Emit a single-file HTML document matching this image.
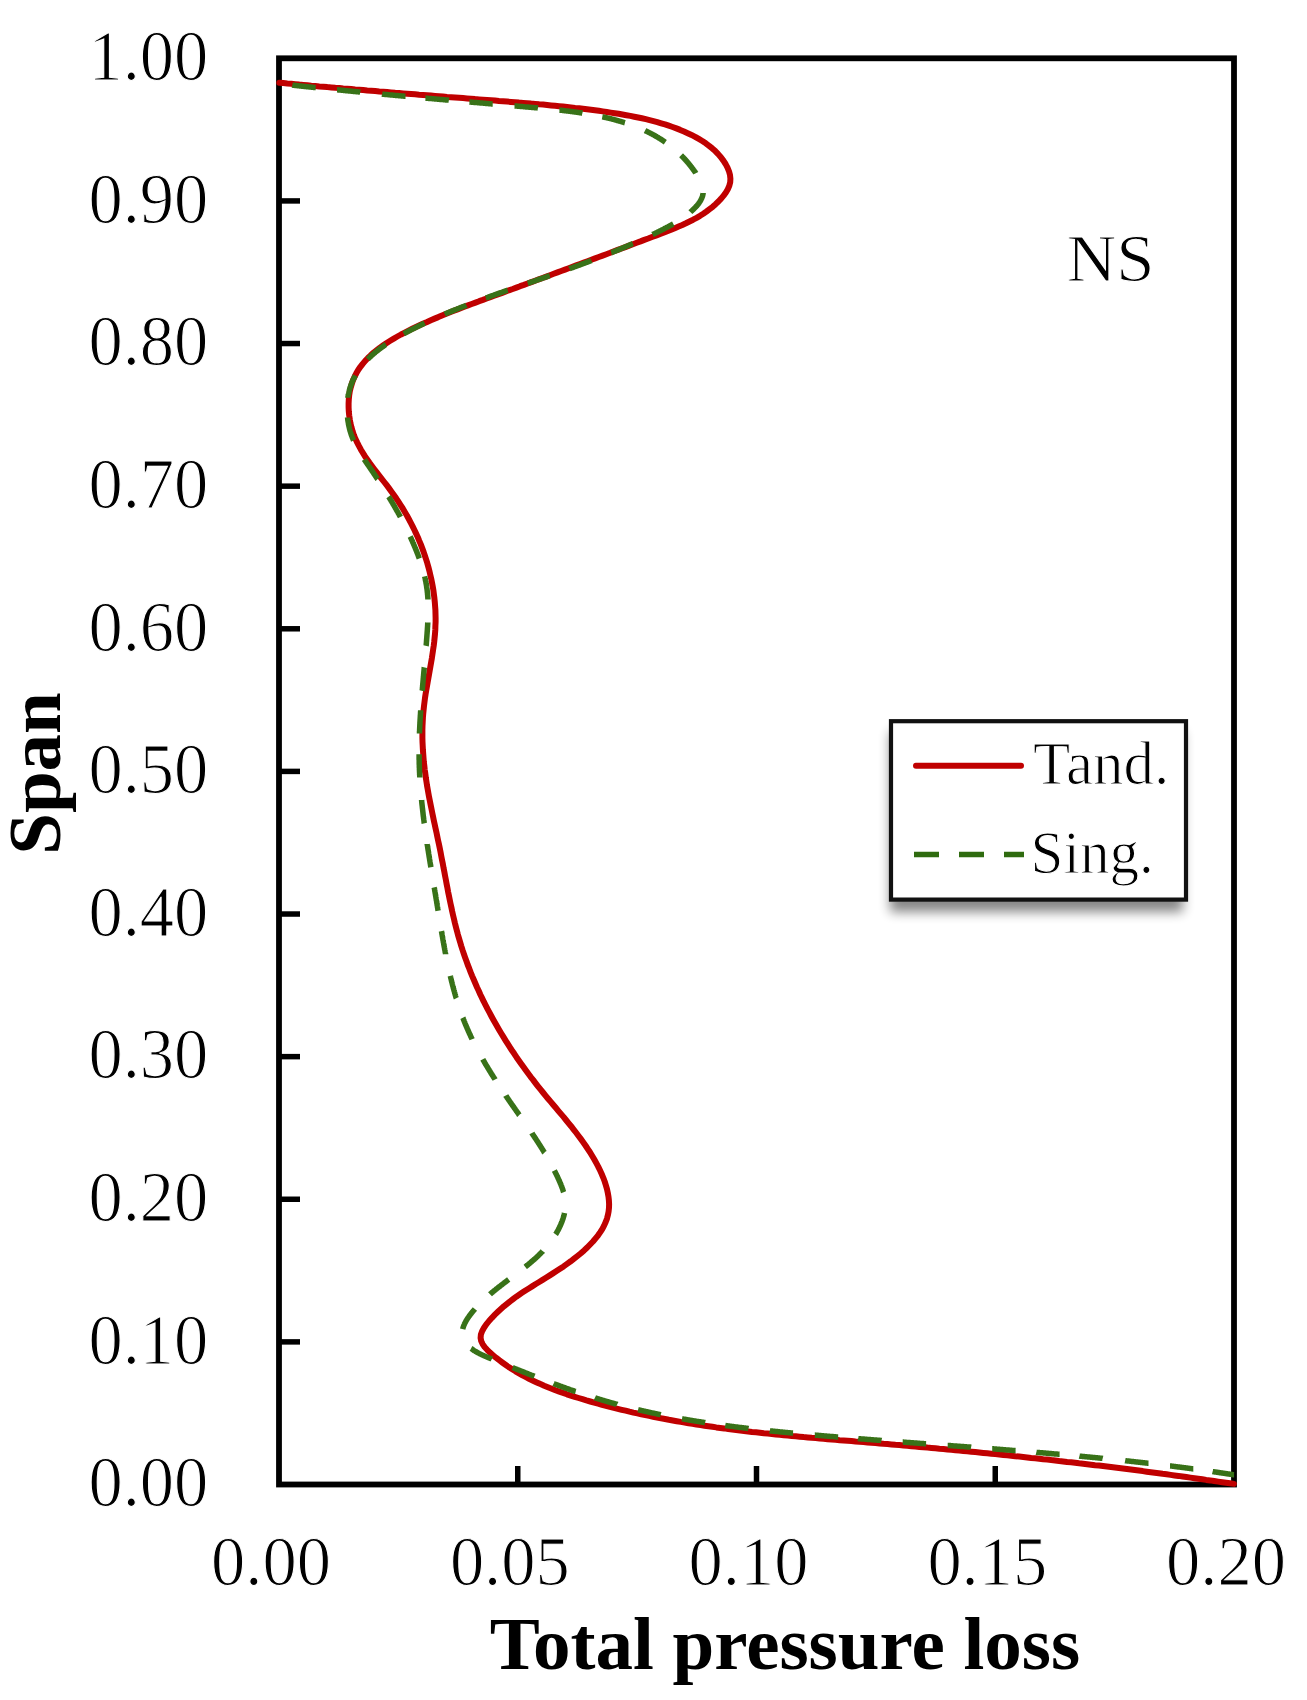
<!DOCTYPE html>
<html><head><meta charset="utf-8"><style>
html,body{margin:0;padding:0;background:#fff;}
body{width:1307px;height:1700px;overflow:hidden;}
svg{display:block;}
text{font-family:"Liberation Serif",serif;fill:#000;}
.thin{stroke:#fff;stroke-width:1.1px;}
</style></head><body>
<svg width="1307" height="1700" viewBox="0 0 1307 1700">
<defs><filter id="sh" x="-10%" y="-10%" width="130%" height="140%"><feGaussianBlur stdDeviation="6"/></filter></defs>
<rect width="1307" height="1700" fill="#fff"/>
<g class="thin" font-size="68.5" text-anchor="end"><text transform="translate(208.3 1506.3) scale(1 1.055)">0.00</text><text transform="translate(208.3 1363.7) scale(1 1.055)">0.10</text><text transform="translate(208.3 1221.1) scale(1 1.055)">0.20</text><text transform="translate(208.3 1078.4) scale(1 1.055)">0.30</text><text transform="translate(208.3 935.8) scale(1 1.055)">0.40</text><text transform="translate(208.3 793.2) scale(1 1.055)">0.50</text><text transform="translate(208.3 650.6) scale(1 1.055)">0.60</text><text transform="translate(208.3 508.0) scale(1 1.055)">0.70</text><text transform="translate(208.3 365.3) scale(1 1.055)">0.80</text><text transform="translate(208.3 222.7) scale(1 1.055)">0.90</text><text transform="translate(208.3 80.1) scale(1 1.055)">1.00</text></g>
<g class="thin" font-size="68.5" text-anchor="middle"><text transform="translate(271.0 1584.5) scale(1 1.03)">0.00</text><text transform="translate(509.8 1584.5) scale(1 1.03)">0.05</text><text transform="translate(748.5 1584.5) scale(1 1.03)">0.10</text><text transform="translate(987.3 1584.5) scale(1 1.03)">0.15</text><text transform="translate(1226.0 1584.5) scale(1 1.03)">0.20</text></g>
<text x="785" y="1669" font-size="75" font-weight="bold" text-anchor="middle">Total pressure loss</text>
<text transform="translate(60,773.5) rotate(-90)" font-size="75" font-weight="bold" text-anchor="middle">Span</text>
<text class="thin" x="1066.8" y="281.3" font-size="68.6">NS</text>
<g stroke="#000" stroke-width="5.5"><line x1="279" y1="1341.88" x2="300" y2="1341.88"/><line x1="279" y1="1199.26" x2="300" y2="1199.26"/><line x1="279" y1="1056.64" x2="300" y2="1056.64"/><line x1="279" y1="914.02" x2="300" y2="914.02"/><line x1="279" y1="771.40" x2="300" y2="771.40"/><line x1="279" y1="628.78" x2="300" y2="628.78"/><line x1="279" y1="486.16" x2="300" y2="486.16"/><line x1="279" y1="343.54" x2="300" y2="343.54"/><line x1="279" y1="200.92" x2="300" y2="200.92"/><line x1="517.75" y1="1484.5" x2="517.75" y2="1466"/><line x1="756.50" y1="1484.5" x2="756.50" y2="1466"/><line x1="995.25" y1="1484.5" x2="995.25" y2="1466"/></g>
<rect x="279" y="58.3" width="955" height="1426.2" fill="none" stroke="#000" stroke-width="5.8"/>
<path d="M279.3 82.7 L283.3 83.1 L287.3 83.5 L291.3 83.8 L295.3 84.2 L299.3 84.6 L303.3 84.9 L307.3 85.3 L311.3 85.7 L315.3 86.0 L319.3 86.4 L323.3 86.7 L327.3 87.1 L331.3 87.4 L335.3 87.8 L339.3 88.1 L343.2 88.5 L347.2 88.8 L351.2 89.1 L355.2 89.5 L359.2 89.8 L363.2 90.1 L367.2 90.5 L371.2 90.8 L375.2 91.1 L379.2 91.5 L383.2 91.8 L387.1 92.1 L391.1 92.4 L395.1 92.8 L399.1 93.1 L403.1 93.4 L407.1 93.7 L411.1 94.0 L415.1 94.3 L419.1 94.7 L423.1 95.0 L427.0 95.3 L431.0 95.6 L435.0 95.9 L439.0 96.2 L443.0 96.5 L447.0 96.9 L451.0 97.2 L455.0 97.5 L459.0 97.8 L463.0 98.1 L467.0 98.4 L471.0 98.7 L475.0 99.1 L479.0 99.4 L483.0 99.7 L487.0 100.0 L491.0 100.3 L495.0 100.6 L499.0 101.0 L503.0 101.3 L507.0 101.6 L511.0 101.9 L515.0 102.2 L519.0 102.6 L523.1 102.9 L527.1 103.2 L531.1 103.6 L535.1 103.9 L539.1 104.3 L543.1 104.6 L547.1 105.0 L551.1 105.4 L555.1 105.8 L559.1 106.2 L563.1 106.6 L567.1 107.0 L571.1 107.4 L575.1 107.9 L579.1 108.3 L583.0 108.8 L587.0 109.3 L591.0 109.8 L594.9 110.3 L598.9 110.8 L602.8 111.4 L606.8 112.0 L610.7 112.6 L614.7 113.2 L618.6 113.8 L622.5 114.5 L626.4 115.2 L630.3 115.9 L634.2 116.7 L638.1 117.5 L641.9 118.3 L645.8 119.2 L649.6 120.1 L653.5 121.1 L657.3 122.1 L661.2 123.3 L665.0 124.4 L668.8 125.7 L672.6 127.0 L676.4 128.4 L680.2 129.9 L684.0 131.5 L687.7 133.2 L691.5 134.9 L695.2 136.8 L698.8 138.9 L702.3 141.0 L705.8 143.3 L709.1 145.8 L712.3 148.4 L715.3 151.1 L718.2 154.1 L720.9 157.2 L723.4 160.6 L725.6 164.0 L727.5 167.7 L729.0 171.3 L730.0 175.0 L730.4 178.7 L730.2 182.3 L729.3 185.8 L727.8 189.2 L725.9 192.5 L723.6 195.6 L721.1 198.6 L718.4 201.5 L715.6 204.2 L712.7 206.8 L709.6 209.2 L706.5 211.5 L703.3 213.7 L700.0 215.8 L696.6 217.8 L693.1 219.7 L689.5 221.5 L685.9 223.3 L682.3 225.0 L678.6 226.6 L674.8 228.2 L671.1 229.7 L667.3 231.2 L663.5 232.7 L659.6 234.1 L655.8 235.6 L652.0 237.0 L648.2 238.5 L644.3 239.9 L640.5 241.4 L636.7 242.8 L632.9 244.2 L629.1 245.6 L625.3 247.1 L621.5 248.5 L617.7 249.9 L614.0 251.3 L610.2 252.8 L606.4 254.2 L602.6 255.6 L598.8 257.0 L595.1 258.4 L591.3 259.8 L587.5 261.2 L583.8 262.6 L580.0 264.0 L576.2 265.4 L572.5 266.8 L568.7 268.2 L565.0 269.6 L561.2 271.0 L557.5 272.4 L553.7 273.8 L550.0 275.2 L546.3 276.6 L542.5 278.0 L538.8 279.3 L535.1 280.7 L531.3 282.1 L527.6 283.5 L523.9 284.9 L520.1 286.2 L516.4 287.6 L512.7 289.0 L508.9 290.3 L505.2 291.7 L501.5 293.1 L497.8 294.4 L494.1 295.8 L490.3 297.2 L486.6 298.5 L482.9 299.9 L479.2 301.2 L475.5 302.6 L471.7 304.0 L468.0 305.4 L464.3 306.8 L460.6 308.2 L456.9 309.6 L453.2 311.0 L449.4 312.5 L445.7 314.0 L442.0 315.5 L438.3 317.1 L434.6 318.6 L430.8 320.2 L427.1 321.9 L423.4 323.5 L419.6 325.3 L415.9 327.0 L412.2 328.8 L408.5 330.7 L404.7 332.6 L401.0 334.5 L397.4 336.5 L393.8 338.6 L390.2 340.8 L386.7 343.0 L383.3 345.3 L380.0 347.6 L376.8 350.1 L373.7 352.6 L370.7 355.3 L367.9 358.0 L365.2 360.8 L362.7 363.8 L360.4 366.8 L358.2 370.0 L356.3 373.3 L354.6 376.7 L353.0 380.2 L351.8 383.8 L350.7 387.6 L349.8 391.4 L349.2 395.3 L348.8 399.3 L348.6 403.3 L348.6 407.3 L348.8 411.4 L349.2 415.4 L349.8 419.5 L350.5 423.5 L351.5 427.4 L352.6 431.3 L353.9 435.1 L355.4 438.8 L357.1 442.4 L358.9 445.9 L360.8 449.4 L362.8 452.8 L364.9 456.2 L367.2 459.5 L369.5 462.8 L371.9 466.0 L374.3 469.2 L376.7 472.4 L379.2 475.6 L381.7 478.8 L384.2 482.0 L386.7 485.2 L389.1 488.4 L391.5 491.7 L393.9 495.0 L396.2 498.3 L398.4 501.7 L400.6 505.1 L402.8 508.5 L404.8 512.0 L406.9 515.5 L408.8 519.0 L410.7 522.6 L412.5 526.1 L414.3 529.8 L416.0 533.4 L417.7 537.0 L419.2 540.7 L420.8 544.4 L422.2 548.1 L423.6 551.9 L424.9 555.7 L426.1 559.4 L427.3 563.2 L428.4 567.1 L429.4 570.9 L430.3 574.8 L431.2 578.6 L432.0 582.5 L432.7 586.4 L433.4 590.3 L433.9 594.3 L434.4 598.2 L434.8 602.1 L435.1 606.1 L435.4 610.0 L435.5 614.0 L435.6 618.0 L435.6 622.0 L435.4 625.9 L435.3 629.9 L435.0 633.9 L434.6 637.9 L434.2 641.9 L433.7 645.9 L433.1 649.9 L432.5 653.9 L431.9 657.9 L431.2 661.9 L430.5 665.9 L429.8 669.9 L429.1 673.9 L428.4 677.9 L427.7 681.9 L427.0 685.9 L426.3 690.0 L425.6 694.0 L425.0 698.0 L424.5 702.0 L424.0 706.0 L423.6 709.9 L423.2 713.9 L422.9 717.9 L422.7 721.9 L422.5 725.9 L422.4 729.9 L422.4 733.9 L422.4 737.8 L422.5 741.8 L422.7 745.8 L422.9 749.8 L423.2 753.7 L423.5 757.7 L423.8 761.7 L424.3 765.6 L424.7 769.6 L425.3 773.5 L425.8 777.5 L426.4 781.4 L427.0 785.4 L427.7 789.3 L428.4 793.3 L429.1 797.2 L429.9 801.1 L430.7 805.1 L431.5 809.0 L432.3 813.0 L433.1 816.9 L433.9 820.8 L434.8 824.8 L435.6 828.7 L436.5 832.7 L437.3 836.6 L438.1 840.5 L439.0 844.5 L439.8 848.4 L440.6 852.4 L441.3 856.3 L442.1 860.3 L442.9 864.2 L443.6 868.2 L444.4 872.1 L445.1 876.0 L445.9 880.0 L446.6 883.9 L447.4 887.9 L448.1 891.8 L448.9 895.7 L449.7 899.6 L450.5 903.5 L451.4 907.5 L452.2 911.4 L453.1 915.3 L454.0 919.1 L454.9 923.0 L455.9 926.9 L456.9 930.7 L457.9 934.6 L459.0 938.4 L460.2 942.3 L461.3 946.1 L462.5 949.9 L463.8 953.7 L465.1 957.4 L466.5 961.2 L467.8 965.0 L469.3 968.7 L470.7 972.4 L472.2 976.1 L473.8 979.8 L475.4 983.5 L477.0 987.2 L478.7 990.8 L480.3 994.5 L482.1 998.1 L483.8 1001.7 L485.7 1005.3 L487.5 1008.9 L489.4 1012.4 L491.3 1016.0 L493.2 1019.5 L495.2 1023.0 L497.2 1026.5 L499.2 1030.0 L501.3 1033.5 L503.4 1036.9 L505.5 1040.3 L507.6 1043.7 L509.8 1047.1 L512.0 1050.5 L514.3 1053.8 L516.5 1057.2 L518.8 1060.5 L521.1 1063.8 L523.5 1067.1 L525.8 1070.3 L528.2 1073.5 L530.6 1076.8 L533.1 1079.9 L535.5 1083.1 L538.0 1086.3 L540.5 1089.4 L543.0 1092.5 L545.5 1095.6 L548.1 1098.7 L550.6 1101.7 L553.2 1104.8 L555.8 1107.8 L558.3 1110.8 L560.9 1113.9 L563.5 1116.9 L566.0 1120.0 L568.5 1123.1 L571.1 1126.2 L573.5 1129.3 L576.0 1132.5 L578.4 1135.7 L580.8 1138.9 L583.2 1142.2 L585.5 1145.5 L587.7 1148.9 L590.0 1152.3 L592.1 1155.8 L594.2 1159.3 L596.2 1162.9 L598.2 1166.6 L600.0 1170.3 L601.7 1174.0 L603.3 1177.8 L604.7 1181.5 L605.9 1185.3 L607.0 1189.1 L607.8 1192.9 L608.5 1196.7 L608.9 1200.4 L609.1 1204.1 L609.0 1207.8 L608.6 1211.5 L607.9 1215.1 L607.0 1218.6 L605.7 1222.0 L604.2 1225.4 L602.4 1228.8 L600.3 1232.1 L598.1 1235.3 L595.6 1238.4 L593.0 1241.5 L590.1 1244.5 L587.2 1247.5 L584.1 1250.4 L580.9 1253.2 L577.5 1256.0 L574.1 1258.7 L570.7 1261.3 L567.1 1263.9 L563.6 1266.4 L560.0 1268.8 L556.5 1271.1 L552.9 1273.4 L549.4 1275.6 L546.0 1277.8 L542.6 1279.9 L539.2 1282.0 L535.8 1284.0 L532.5 1286.1 L529.2 1288.2 L525.9 1290.2 L522.7 1292.3 L519.5 1294.5 L516.3 1296.7 L513.2 1299.0 L510.1 1301.3 L507.0 1303.8 L503.9 1306.3 L500.9 1309.0 L497.9 1311.8 L494.9 1314.7 L491.9 1317.8 L489.0 1321.0 L486.3 1324.4 L484.0 1327.8 L482.1 1331.2 L480.9 1334.6 L480.6 1337.9 L481.2 1341.1 L482.6 1344.1 L484.6 1347.0 L487.2 1349.8 L490.0 1352.6 L493.0 1355.2 L496.0 1357.7 L499.2 1360.2 L502.3 1362.5 L505.5 1364.8 L508.8 1367.1 L512.2 1369.2 L515.5 1371.3 L519.0 1373.3 L522.5 1375.3 L526.0 1377.1 L529.5 1379.0 L533.1 1380.7 L536.8 1382.4 L540.5 1384.1 L544.2 1385.7 L547.9 1387.2 L551.7 1388.7 L555.4 1390.2 L559.3 1391.6 L563.1 1392.9 L566.9 1394.3 L570.8 1395.6 L574.7 1396.8 L578.6 1398.0 L582.5 1399.2 L586.4 1400.4 L590.3 1401.5 L594.2 1402.6 L598.1 1403.7 L602.0 1404.8 L606.0 1405.8 L609.9 1406.9 L613.8 1407.9 L617.7 1408.8 L621.7 1409.8 L625.6 1410.7 L629.5 1411.7 L633.4 1412.6 L637.4 1413.4 L641.3 1414.3 L645.3 1415.1 L649.2 1415.9 L653.1 1416.7 L657.1 1417.5 L661.0 1418.3 L665.0 1419.0 L668.9 1419.8 L672.8 1420.5 L676.8 1421.2 L680.7 1421.9 L684.7 1422.5 L688.6 1423.2 L692.6 1423.8 L696.5 1424.5 L700.5 1425.1 L704.5 1425.7 L708.4 1426.2 L712.4 1426.8 L716.3 1427.4 L720.3 1427.9 L724.3 1428.4 L728.2 1429.0 L732.2 1429.5 L736.2 1430.0 L740.1 1430.5 L744.1 1430.9 L748.1 1431.4 L752.0 1431.9 L756.0 1432.3 L760.0 1432.7 L763.9 1433.2 L767.9 1433.6 L771.9 1434.0 L775.9 1434.4 L779.8 1434.8 L783.8 1435.2 L787.8 1435.6 L791.8 1436.0 L795.8 1436.3 L799.7 1436.7 L803.7 1437.1 L807.7 1437.4 L811.7 1437.8 L815.7 1438.1 L819.6 1438.5 L823.6 1438.8 L827.6 1439.2 L831.6 1439.5 L835.6 1439.8 L839.6 1440.2 L843.6 1440.5 L847.6 1440.8 L851.5 1441.1 L855.5 1441.5 L859.5 1441.8 L863.5 1442.1 L867.5 1442.5 L871.5 1442.8 L875.5 1443.1 L879.5 1443.4 L883.5 1443.8 L887.5 1444.1 L891.4 1444.4 L895.4 1444.8 L899.4 1445.1 L903.4 1445.5 L907.4 1445.8 L911.4 1446.2 L915.4 1446.5 L919.4 1446.9 L923.4 1447.2 L927.4 1447.6 L931.4 1447.9 L935.4 1448.3 L939.4 1448.7 L943.4 1449.0 L947.4 1449.4 L951.4 1449.8 L955.4 1450.2 L959.3 1450.5 L963.3 1450.9 L967.3 1451.3 L971.3 1451.7 L975.3 1452.1 L979.3 1452.5 L983.3 1452.9 L987.3 1453.3 L991.3 1453.7 L995.3 1454.1 L999.3 1454.5 L1003.3 1454.9 L1007.3 1455.3 L1011.3 1455.7 L1015.3 1456.2 L1019.3 1456.6 L1023.2 1457.0 L1027.2 1457.4 L1031.2 1457.9 L1035.2 1458.3 L1039.2 1458.7 L1043.2 1459.2 L1047.2 1459.6 L1051.2 1460.1 L1055.2 1460.5 L1059.2 1461.0 L1063.1 1461.4 L1067.1 1461.9 L1071.1 1462.3 L1075.1 1462.8 L1079.1 1463.3 L1083.1 1463.7 L1087.1 1464.2 L1091.1 1464.7 L1095.0 1465.2 L1099.0 1465.6 L1103.0 1466.1 L1107.0 1466.6 L1111.0 1467.1 L1114.9 1467.6 L1118.9 1468.1 L1122.9 1468.6 L1126.9 1469.1 L1130.9 1469.6 L1134.8 1470.1 L1138.8 1470.6 L1142.8 1471.1 L1146.8 1471.7 L1150.7 1472.2 L1154.7 1472.7 L1158.7 1473.2 L1162.6 1473.8 L1166.6 1474.3 L1170.6 1474.9 L1174.5 1475.4 L1178.5 1475.9 L1182.5 1476.5 L1186.4 1477.0 L1190.4 1477.6 L1194.4 1478.2 L1198.3 1478.7 L1202.3 1479.3 L1206.2 1479.9 L1210.2 1480.4 L1214.2 1481.0 L1218.1 1481.6 L1222.1 1482.2 L1226.0 1482.7 L1230.0 1483.3 L1233.9 1483.9" fill="none" stroke="#c00000" stroke-width="6" stroke-linejoin="round" stroke-linecap="round"/>
<path d="M292.3 85.1 L292.7 85.2 L293.2 85.2 L293.7 85.3 L294.1 85.3 L294.6 85.4 L295.0 85.4 L295.5 85.5 L296.0 85.5 L296.4 85.6 L296.9 85.6 L297.4 85.7 L297.8 85.7 L298.3 85.8 L298.7 85.8 L299.2 85.9 L299.7 85.9 L300.1 86.0 L300.6 86.0 L301.0 86.1 L301.5 86.1 L302.0 86.2 L302.4 86.2 L302.9 86.3 L303.3 86.3 L303.8 86.4 L304.3 86.4 L304.7 86.5 L305.2 86.5 L305.6 86.6 L306.1 86.6 L306.6 86.7 L307.0 86.7 L307.5 86.7 L307.9 86.8 L308.4 86.8 L308.8 86.9 L309.3 86.9 L309.8 87.0 L310.2 87.0 L310.7 87.1 L311.1 87.1 L311.6 87.2 L312.0 87.2 L312.5 87.3 L313.0 87.3 L313.4 87.4 L313.9 87.4 L314.3 87.5 L314.8 87.5 L315.2 87.6 L315.7 87.6 M337.0 89.8 L337.4 89.8 L337.9 89.9 L338.3 89.9 L338.8 89.9 L339.2 90.0 L339.7 90.0 L340.1 90.1 L340.6 90.1 L341.0 90.2 L341.5 90.2 L341.9 90.3 L342.4 90.3 L342.8 90.3 L343.3 90.4 L343.7 90.4 L344.2 90.5 L344.6 90.5 L345.1 90.6 L345.5 90.6 L346.0 90.7 L346.4 90.7 L346.9 90.7 L347.3 90.8 L347.8 90.8 L348.2 90.9 L348.7 90.9 L349.1 91.0 L349.6 91.0 L350.0 91.1 L350.5 91.1 L350.9 91.1 L351.4 91.2 L351.8 91.2 L352.2 91.3 L352.7 91.3 L353.1 91.4 L353.6 91.4 L354.0 91.4 L354.5 91.5 L354.9 91.5 L355.4 91.6 L355.8 91.6 L356.3 91.7 L356.7 91.7 L357.2 91.7 L357.6 91.8 L358.1 91.8 L358.5 91.9 L358.9 91.9 L359.4 92.0 L359.8 92.0 L360.3 92.1 M382.1 94.1 L382.5 94.2 L383.0 94.2 L383.4 94.2 L383.8 94.3 L384.3 94.3 L384.7 94.4 L385.2 94.4 L385.6 94.5 L386.1 94.5 L386.5 94.5 L386.9 94.6 L387.4 94.6 L387.8 94.7 L388.3 94.7 L388.7 94.7 L389.2 94.8 L389.6 94.8 L390.0 94.9 L390.5 94.9 L390.9 95.0 L391.4 95.0 L391.8 95.0 L392.3 95.1 L392.7 95.1 L393.1 95.2 L393.6 95.2 L394.0 95.2 L394.5 95.3 L394.9 95.3 L395.3 95.4 L395.8 95.4 L396.2 95.4 L396.7 95.5 L397.1 95.5 L397.6 95.6 L398.0 95.6 L398.4 95.6 L398.9 95.7 L399.3 95.7 L399.8 95.8 L400.2 95.8 L400.7 95.8 L401.1 95.9 L401.5 95.9 L402.0 96.0 L402.4 96.0 L402.9 96.1 L403.3 96.1 L403.7 96.1 L404.2 96.2 L404.6 96.2 L405.1 96.3 L405.5 96.3 M425.4 98.1 L425.8 98.1 L426.3 98.2 L426.7 98.2 L427.2 98.3 L427.6 98.3 L428.1 98.3 L428.5 98.4 L428.9 98.4 L429.4 98.4 L429.8 98.5 L430.3 98.5 L430.7 98.6 L431.2 98.6 L431.6 98.6 L432.0 98.7 L432.5 98.7 L432.9 98.8 L433.4 98.8 L433.8 98.8 L434.3 98.9 L434.7 98.9 L435.1 99.0 L435.6 99.0 L436.0 99.0 L436.5 99.1 L436.9 99.1 L437.3 99.2 L437.8 99.2 L438.2 99.2 L438.7 99.3 L439.1 99.3 L439.6 99.4 L440.0 99.4 L440.5 99.4 L440.9 99.5 L441.3 99.5 L441.8 99.6 L442.2 99.6 L442.7 99.6 L443.1 99.7 L443.6 99.7 L444.0 99.7 L444.4 99.8 L444.9 99.8 L445.3 99.9 L445.8 99.9 L446.2 99.9 L446.7 100.0 L447.1 100.0 L447.5 100.1 L448.0 100.1 L448.4 100.1 L448.9 100.2 M469.4 102.0 L469.8 102.0 L470.2 102.1 L470.7 102.1 L471.1 102.1 L471.6 102.2 L472.0 102.2 L472.5 102.2 L472.9 102.3 L473.4 102.3 L473.8 102.4 L474.3 102.4 L474.7 102.4 L475.2 102.5 L475.6 102.5 L476.1 102.6 L476.5 102.6 L477.0 102.6 L477.4 102.7 L477.9 102.7 L478.3 102.8 L478.8 102.8 L479.2 102.8 L479.7 102.9 L480.1 102.9 L480.5 102.9 L481.0 103.0 L481.4 103.0 L481.9 103.1 L482.3 103.1 L482.8 103.1 L483.2 103.2 L483.7 103.2 L484.1 103.3 L484.6 103.3 L485.0 103.3 L485.5 103.4 L485.9 103.4 L486.4 103.5 L486.8 103.5 L487.3 103.5 L487.7 103.6 L488.2 103.6 L488.6 103.7 L489.1 103.7 L489.5 103.7 L490.0 103.8 L490.4 103.8 L490.9 103.8 L491.3 103.9 L491.8 103.9 L492.2 104.0 L492.7 104.0 M514.5 105.9 L515.0 105.9 L515.4 106.0 L515.9 106.0 L516.3 106.1 L516.8 106.1 L517.2 106.1 L517.7 106.2 L518.2 106.2 L518.6 106.3 L519.1 106.3 L519.5 106.3 L520.0 106.4 L520.5 106.4 L520.9 106.5 L521.4 106.5 L521.8 106.5 L522.3 106.6 L522.8 106.6 L523.2 106.7 L523.7 106.7 L524.1 106.7 L524.6 106.8 L525.1 106.8 L525.5 106.9 L526.0 106.9 L526.4 106.9 L526.9 107.0 L527.4 107.0 L527.8 107.1 L528.3 107.1 L528.7 107.1 L529.2 107.2 L529.7 107.2 L530.1 107.3 L530.6 107.3 L531.1 107.3 L531.5 107.4 L532.0 107.4 L532.4 107.5 L532.9 107.5 L533.4 107.5 L533.8 107.6 L534.3 107.6 L534.8 107.7 L535.2 107.7 L535.7 107.8 L536.1 107.8 L536.6 107.8 L537.1 107.9 L537.5 107.9 L538.0 108.0 M559.4 110.1 L559.8 110.1 L560.3 110.2 L560.8 110.2 L561.2 110.3 L561.7 110.3 L562.2 110.4 L562.6 110.4 L563.1 110.5 L563.5 110.5 L564.0 110.6 L564.5 110.7 L564.9 110.7 L565.4 110.8 L565.9 110.8 L566.3 110.9 L566.8 110.9 L567.2 111.0 L567.7 111.1 L568.2 111.1 L568.6 111.2 L569.1 111.2 L569.6 111.3 L570.0 111.3 L570.5 111.4 L570.9 111.5 L571.4 111.5 L571.9 111.6 L572.3 111.6 L572.8 111.7 L573.3 111.8 L573.7 111.8 L574.2 111.9 L574.6 112.0 L575.1 112.0 L575.6 112.1 L576.0 112.1 L576.5 112.2 L576.9 112.3 L577.4 112.3 L577.9 112.4 L578.3 112.5 L578.8 112.5 L579.2 112.6 L579.7 112.7 L580.1 112.7 L580.6 112.8 L581.1 112.9 L581.5 113.0 L582.0 113.0 L582.4 113.1 M602.3 116.8 L602.8 116.9 L603.2 117.0 L603.6 117.1 L604.1 117.2 L604.5 117.3 L605.0 117.4 L605.4 117.5 L605.9 117.6 L606.3 117.7 L606.7 117.8 L607.2 117.9 L607.6 118.0 L608.1 118.1 L608.5 118.2 L608.9 118.3 L609.4 118.4 L609.8 118.5 L610.3 118.6 L610.7 118.7 L611.1 118.8 L611.6 118.9 L612.0 119.1 L612.4 119.2 L612.9 119.3 L613.3 119.4 L613.8 119.5 L614.2 119.6 L614.6 119.7 L615.1 119.9 L615.5 120.0 L615.9 120.1 L616.4 120.2 L616.8 120.3 L617.2 120.5 L617.7 120.6 L618.1 120.7 L618.5 120.8 L618.9 121.0 L619.4 121.1 L619.8 121.2 L620.2 121.3 L620.7 121.5 L621.1 121.6 L621.5 121.7 L621.9 121.9 L622.4 122.0 L622.8 122.1 L623.2 122.2 L623.6 122.4 L624.1 122.5 L624.5 122.7 L624.9 122.8 M645.0 130.6 L645.4 130.8 L645.8 131.0 L646.2 131.2 L646.6 131.4 L647.0 131.5 L647.4 131.7 L647.7 131.9 L648.1 132.1 L648.5 132.3 L648.9 132.5 L649.3 132.7 L649.7 132.9 L650.1 133.1 L650.5 133.3 L650.8 133.5 L651.2 133.7 L651.6 133.9 L652.0 134.1 L652.4 134.3 L652.8 134.5 L653.1 134.7 L653.5 134.9 L653.9 135.1 L654.3 135.3 L654.7 135.6 L655.0 135.8 L655.4 136.0 L655.8 136.2 L656.2 136.4 L656.5 136.6 L656.9 136.9 L657.3 137.1 L657.7 137.3 L658.0 137.5 L658.4 137.7 L658.8 138.0 L659.1 138.2 L659.5 138.4 L659.9 138.6 L660.3 138.9 L660.6 139.1 L661.0 139.3 L661.3 139.6 L661.7 139.8 L662.1 140.0 L662.4 140.3 L662.8 140.5 L663.2 140.8 L663.5 141.0 L663.9 141.2 L664.2 141.5 L664.6 141.7 L665.0 142.0 L665.3 142.2 M681.1 155.3 L681.4 155.6 L681.7 155.9 L682.0 156.3 L682.3 156.6 L682.7 156.9 L683.0 157.2 L683.3 157.5 L683.6 157.9 L683.9 158.2 L684.2 158.5 L684.5 158.8 L684.8 159.2 L685.1 159.5 L685.4 159.8 L685.7 160.2 L686.0 160.5 L686.3 160.8 L686.6 161.2 L686.9 161.5 L687.2 161.9 L687.5 162.2 L687.8 162.5 L688.1 162.9 L688.4 163.2 L688.7 163.6 L689.0 163.9 L689.2 164.3 L689.5 164.6 L689.8 165.0 L690.1 165.4 L690.4 165.7 L690.7 166.1 L690.9 166.4 L691.2 166.8 L691.5 167.2 L691.8 167.5 L692.1 167.9 L692.3 168.3 L692.6 168.6 L692.9 169.0 L693.2 169.4 L693.4 169.8 L693.7 170.1 L694.0 170.5 L694.3 170.9 L694.5 171.3 L694.8 171.7 L695.1 172.0 L695.3 172.4 L695.6 172.8 L695.8 173.2 M703.1 193.0 L703.1 193.4 L703.0 193.8 L703.0 194.2 L702.9 194.6 L702.8 195.0 L702.7 195.5 L702.6 195.9 L702.5 196.3 L702.3 196.7 L702.2 197.1 L702.0 197.5 L701.9 197.9 L701.7 198.3 L701.5 198.7 L701.3 199.1 L701.1 199.5 L700.9 199.9 L700.7 200.3 L700.5 200.7 L700.3 201.1 L700.0 201.5 L699.8 201.8 L699.5 202.2 L699.3 202.6 L699.0 203.0 L698.7 203.4 L698.5 203.8 L698.2 204.1 L697.9 204.5 L697.6 204.9 L697.3 205.2 L697.0 205.6 L696.7 206.0 L696.3 206.3 L696.0 206.7 L695.7 207.0 L695.4 207.4 L695.0 207.7 L694.7 208.1 L694.3 208.4 L694.0 208.8 L693.6 209.1 L693.3 209.5 L692.9 209.8 L692.6 210.1 L692.2 210.4 L691.9 210.8 L691.5 211.1 L691.1 211.4 L690.8 211.7 L690.4 212.1 M673.3 223.9 L672.9 224.1 L672.5 224.3 L672.1 224.5 L671.7 224.8 L671.3 225.0 L671.0 225.2 L670.6 225.4 L670.2 225.6 L669.8 225.8 L669.4 226.1 L669.0 226.3 L668.6 226.5 L668.2 226.7 L667.8 226.9 L667.4 227.1 L667.0 227.3 L666.6 227.5 L666.2 227.7 L665.8 227.9 L665.4 228.1 L665.0 228.3 L664.6 228.5 L664.2 228.8 L663.8 229.0 L663.4 229.2 L663.0 229.4 L662.6 229.6 L662.2 229.8 L661.8 230.0 L661.4 230.2 L661.0 230.4 L660.6 230.6 L660.2 230.8 L659.8 231.0 L659.4 231.2 L659.0 231.4 L658.6 231.6 L658.2 231.8 L657.8 232.0 L657.4 232.2 L657.0 232.4 L656.6 232.6 L656.2 232.8 L655.7 233.0 L655.3 233.2 L654.9 233.4 L654.5 233.6 L654.1 233.8 L653.7 234.0 L653.3 234.1 L652.9 234.3 L652.5 234.5 M632.9 243.6 L632.4 243.8 L632.0 243.9 L631.6 244.1 L631.2 244.3 L630.8 244.5 L630.4 244.7 L630.0 244.9 L629.6 245.0 L629.1 245.2 L628.7 245.4 L628.3 245.6 L627.9 245.8 L627.5 245.9 L627.1 246.1 L626.7 246.3 L626.2 246.5 L625.8 246.6 L625.4 246.8 L625.0 247.0 L624.6 247.2 L624.2 247.4 L623.7 247.5 L623.3 247.7 L622.9 247.9 L622.5 248.1 L622.1 248.2 L621.7 248.4 L621.2 248.6 L620.8 248.8 L620.4 248.9 L620.0 249.1 L619.6 249.3 L619.2 249.5 L618.7 249.6 L618.3 249.8 L617.9 250.0 L617.5 250.2 L617.1 250.3 L616.7 250.5 L616.2 250.7 L615.8 250.8 L615.4 251.0 L615.0 251.2 L614.6 251.4 L614.2 251.5 L613.7 251.7 L613.3 251.9 L612.9 252.1 L612.5 252.2 L612.1 252.4 L611.6 252.6 L611.2 252.7 M591.4 260.5 L591.0 260.7 L590.6 260.8 L590.2 261.0 L589.7 261.2 L589.3 261.3 L588.9 261.5 L588.5 261.6 L588.0 261.8 L587.6 262.0 L587.2 262.1 L586.8 262.3 L586.3 262.4 L585.9 262.6 L585.5 262.8 L585.1 262.9 L584.7 263.1 L584.2 263.2 L583.8 263.4 L583.4 263.6 L583.0 263.7 L582.5 263.9 L582.1 264.0 L581.7 264.2 L581.3 264.3 L580.8 264.5 L580.4 264.7 L580.0 264.8 L579.6 265.0 L579.1 265.1 L578.7 265.3 L578.3 265.4 L577.9 265.6 L577.4 265.8 L577.0 265.9 L576.6 266.1 L576.2 266.2 L575.7 266.4 L575.3 266.5 L574.9 266.7 L574.5 266.8 L574.0 267.0 L573.6 267.2 L573.2 267.3 L572.8 267.5 L572.3 267.6 L571.9 267.8 L571.5 267.9 L571.1 268.1 L570.6 268.2 L570.2 268.4 L569.8 268.5 L569.4 268.7 M549.8 275.7 L549.4 275.8 L548.9 275.9 L548.5 276.1 L548.1 276.2 L547.7 276.4 L547.2 276.5 L546.8 276.7 L546.4 276.8 L546.0 277.0 L545.5 277.1 L545.1 277.3 L544.7 277.4 L544.2 277.6 L543.8 277.7 L543.4 277.9 L543.0 278.0 L542.5 278.2 L542.1 278.3 L541.7 278.5 L541.3 278.6 L540.8 278.8 L540.4 278.9 L540.0 279.1 L539.6 279.2 L539.1 279.3 L538.7 279.5 L538.3 279.6 L537.9 279.8 L537.4 279.9 L537.0 280.1 L536.6 280.2 L536.2 280.4 L535.7 280.5 L535.3 280.7 L534.9 280.8 L534.5 281.0 L534.0 281.1 L533.6 281.3 L533.2 281.4 L532.8 281.6 L532.3 281.7 L531.9 281.8 L531.5 282.0 L531.1 282.1 L530.6 282.3 L530.2 282.4 L529.8 282.6 L529.4 282.7 L528.9 282.9 L528.5 283.0 L528.1 283.2 L527.7 283.3 M507.7 290.2 L507.3 290.3 L506.9 290.5 L506.5 290.6 L506.0 290.8 L505.6 290.9 L505.2 291.1 L504.8 291.2 L504.3 291.4 L503.9 291.5 L503.5 291.7 L503.1 291.8 L502.7 292.0 L502.2 292.1 L501.8 292.3 L501.4 292.4 L501.0 292.6 L500.5 292.7 L500.1 292.9 L499.7 293.0 L499.3 293.2 L498.8 293.3 L498.4 293.5 L498.0 293.6 L497.6 293.8 L497.2 293.9 L496.7 294.1 L496.3 294.2 L495.9 294.4 L495.5 294.5 L495.0 294.7 L494.6 294.8 L494.2 295.0 L493.8 295.1 L493.4 295.3 L492.9 295.4 L492.5 295.6 L492.1 295.7 L491.7 295.9 L491.2 296.0 L490.8 296.2 L490.4 296.3 L490.0 296.5 L489.6 296.6 L489.1 296.8 L488.7 296.9 L488.3 297.1 L487.9 297.3 L487.4 297.4 L487.0 297.6 L486.6 297.7 L486.2 297.9 L485.8 298.0 M466.4 305.3 L466.0 305.5 L465.6 305.6 L465.2 305.8 L464.7 306.0 L464.3 306.1 L463.9 306.3 L463.5 306.4 L463.1 306.6 L462.6 306.8 L462.2 306.9 L461.8 307.1 L461.4 307.3 L461.0 307.4 L460.5 307.6 L460.1 307.8 L459.7 307.9 L459.3 308.1 L458.9 308.3 L458.4 308.4 L458.0 308.6 L457.6 308.8 L457.2 309.0 L456.8 309.1 L456.4 309.3 L455.9 309.5 L455.5 309.6 L455.1 309.8 L454.7 310.0 L454.3 310.1 L453.8 310.3 L453.4 310.5 L453.0 310.7 L452.6 310.8 L452.2 311.0 L451.8 311.2 L451.3 311.3 L450.9 311.5 L450.5 311.7 L450.1 311.9 L449.7 312.0 L449.3 312.2 L448.8 312.4 L448.4 312.6 L448.0 312.7 L447.6 312.9 L447.2 313.1 L446.7 313.3 L446.3 313.4 L445.9 313.6 L445.5 313.8 L445.1 314.0 L444.7 314.2 M424.7 323.1 L424.3 323.3 L423.9 323.5 L423.5 323.7 L423.1 323.9 L422.7 324.1 L422.2 324.3 L421.8 324.5 L421.4 324.7 L421.0 324.9 L420.6 325.1 L420.2 325.3 L419.8 325.5 L419.4 325.7 L418.9 325.9 L418.5 326.1 L418.1 326.3 L417.7 326.5 L417.3 326.7 L416.9 326.9 L416.5 327.1 L416.1 327.3 L415.6 327.6 L415.2 327.8 L414.8 328.0 L414.4 328.2 L414.0 328.4 L413.6 328.6 L413.2 328.8 L412.8 329.0 L412.3 329.2 L411.9 329.4 L411.5 329.6 L411.1 329.8 L410.7 330.1 L410.3 330.3 L409.9 330.5 L409.5 330.7 L409.1 330.9 L408.6 331.1 L408.2 331.3 L407.8 331.5 L407.4 331.8 L407.0 332.0 L406.6 332.2 L406.2 332.4 L405.8 332.6 L405.4 332.9 L405.0 333.1 L404.5 333.3 L404.1 333.5 L403.7 333.7 M386.0 344.4 L385.6 344.6 L385.2 344.9 L384.9 345.1 L384.5 345.4 L384.1 345.7 L383.8 345.9 L383.4 346.2 L383.0 346.4 L382.6 346.7 L382.3 347.0 L381.9 347.2 L381.5 347.5 L381.2 347.8 L380.8 348.0 L380.5 348.3 L380.1 348.6 L379.7 348.8 L379.4 349.1 L379.0 349.4 L378.7 349.6 L378.3 349.9 L378.0 350.2 L377.6 350.5 L377.3 350.7 L376.9 351.0 L376.6 351.3 L376.2 351.6 L375.9 351.9 L375.5 352.1 L375.2 352.4 L374.9 352.7 L374.5 353.0 L374.2 353.3 L373.8 353.6 L373.5 353.9 L373.2 354.1 L372.8 354.4 L372.5 354.7 L372.2 355.0 L371.9 355.3 L371.5 355.6 L371.2 355.9 L370.9 356.2 L370.6 356.5 L370.2 356.8 L369.9 357.1 L369.6 357.4 L369.3 357.7 L369.0 358.0 L368.7 358.3 L368.4 358.6 L368.0 358.9 L367.7 359.2 M355.3 375.6 L355.1 376.0 L354.9 376.4 L354.7 376.7 L354.5 377.1 L354.3 377.5 L354.1 377.9 L353.9 378.3 L353.7 378.7 L353.5 379.0 L353.3 379.4 L353.1 379.8 L353.0 380.2 L352.8 380.6 L352.6 381.0 L352.4 381.4 L352.3 381.8 L352.1 382.2 L351.9 382.6 L351.8 383.0 L351.6 383.4 L351.4 383.8 L351.3 384.2 L351.1 384.6 L351.0 385.1 L350.8 385.5 L350.7 385.9 L350.6 386.3 L350.4 386.7 L350.3 387.1 L350.1 387.6 L350.0 388.0 L349.9 388.4 L349.8 388.8 L349.6 389.3 L349.5 389.7 L349.4 390.1 L349.3 390.6 L349.2 391.0 L349.1 391.4 L349.0 391.9 L348.9 392.3 L348.8 392.8 L348.7 393.2 L348.6 393.6 L348.5 394.1 L348.4 394.5 L348.3 395.0 L348.2 395.4 L348.2 395.9 L348.1 396.3 L348.0 396.8 L347.9 397.3 L347.9 397.7 M347.6 417.6 L347.6 418.1 L347.7 418.5 L347.7 419.0 L347.8 419.5 L347.8 420.0 L347.9 420.4 L348.0 420.9 L348.0 421.4 L348.1 421.8 L348.2 422.3 L348.3 422.8 L348.4 423.2 L348.4 423.7 L348.5 424.2 L348.6 424.6 L348.7 425.1 L348.8 425.6 L348.9 426.0 L349.0 426.5 L349.1 426.9 L349.2 427.4 L349.3 427.8 L349.4 428.3 L349.5 428.8 L349.6 429.2 L349.8 429.7 L349.9 430.1 L350.0 430.6 L350.1 431.0 L350.3 431.4 L350.4 431.9 L350.5 432.3 L350.7 432.8 L350.8 433.2 L350.9 433.6 L351.1 434.1 L351.2 434.5 L351.4 434.9 L351.5 435.4 L351.7 435.8 L351.8 436.2 L352.0 436.6 L352.2 437.1 L352.3 437.5 L352.5 437.9 L352.7 438.3 L352.8 438.7 L353.0 439.1 L353.2 439.6 L353.3 440.0 L353.5 440.4 M364.4 459.6 L364.6 460.0 L364.9 460.3 L365.1 460.7 L365.4 461.1 L365.6 461.4 L365.9 461.8 L366.1 462.2 L366.4 462.5 L366.6 462.9 L366.9 463.3 L367.1 463.6 L367.4 464.0 L367.6 464.4 L367.9 464.7 L368.1 465.1 L368.4 465.5 L368.6 465.8 L368.9 466.2 L369.1 466.6 L369.4 466.9 L369.6 467.3 L369.9 467.7 L370.1 468.0 L370.4 468.4 L370.6 468.8 L370.9 469.1 L371.1 469.5 L371.4 469.9 L371.6 470.2 L371.9 470.6 L372.1 471.0 L372.4 471.3 L372.6 471.7 L372.9 472.1 L373.1 472.4 L373.4 472.8 L373.6 473.2 L373.8 473.6 L374.1 473.9 L374.3 474.3 L374.6 474.7 L374.8 475.0 L375.1 475.4 L375.3 475.8 L375.6 476.2 L375.8 476.5 L376.1 476.9 L376.3 477.3 L376.6 477.6 L376.8 478.0 L377.1 478.4 L377.3 478.8 L377.6 479.1 M388.6 496.6 L388.9 497.0 L389.1 497.4 L389.3 497.8 L389.6 498.1 L389.8 498.5 L390.0 498.9 L390.3 499.3 L390.5 499.7 L390.7 500.1 L391.0 500.5 L391.2 500.9 L391.4 501.2 L391.7 501.6 L391.9 502.0 L392.1 502.4 L392.4 502.8 L392.6 503.2 L392.8 503.6 L393.0 504.0 L393.3 504.4 L393.5 504.8 L393.7 505.1 L394.0 505.5 L394.2 505.9 L394.4 506.3 L394.6 506.7 L394.9 507.1 L395.1 507.5 L395.3 507.9 L395.5 508.3 L395.8 508.7 L396.0 509.1 L396.2 509.5 L396.4 509.9 L396.7 510.3 L396.9 510.7 L397.1 511.0 L397.3 511.4 L397.6 511.8 L397.8 512.2 L398.0 512.6 L398.2 513.0 L398.4 513.4 L398.7 513.8 L398.9 514.2 L399.1 514.6 L399.3 515.0 L399.5 515.4 L399.7 515.8 L400.0 516.2 L400.2 516.6 L400.4 517.0 M410.2 536.6 L410.4 537.0 L410.6 537.4 L410.8 537.8 L411.0 538.2 L411.1 538.6 L411.3 539.1 L411.5 539.5 L411.7 539.9 L411.9 540.3 L412.1 540.7 L412.3 541.1 L412.5 541.6 L412.6 542.0 L412.8 542.4 L413.0 542.8 L413.2 543.2 L413.4 543.7 L413.5 544.1 L413.7 544.5 L413.9 544.9 L414.1 545.3 L414.3 545.8 L414.4 546.2 L414.6 546.6 L414.8 547.0 L415.0 547.4 L415.2 547.9 L415.3 548.3 L415.5 548.7 L415.7 549.1 L415.8 549.6 L416.0 550.0 L416.2 550.4 L416.4 550.8 L416.5 551.3 L416.7 551.7 L416.9 552.1 L417.0 552.6 L417.2 553.0 L417.4 553.4 L417.5 553.8 L417.7 554.3 L417.9 554.7 L418.0 555.1 L418.2 555.5 L418.3 556.0 L418.5 556.4 L418.7 556.8 L418.8 557.3 L419.0 557.7 L419.1 558.1 L419.3 558.6 M424.7 576.4 L424.8 576.9 L424.9 577.3 L425.0 577.8 L425.1 578.2 L425.2 578.6 L425.3 579.1 L425.3 579.5 L425.4 580.0 L425.5 580.4 L425.6 580.9 L425.7 581.3 L425.8 581.7 L425.9 582.2 L426.0 582.6 L426.0 583.1 L426.1 583.5 L426.2 584.0 L426.3 584.4 L426.4 584.8 L426.4 585.3 L426.5 585.7 L426.6 586.2 L426.6 586.6 L426.7 587.1 L426.8 587.5 L426.8 587.9 L426.9 588.4 L427.0 588.8 L427.0 589.3 L427.1 589.7 L427.1 590.2 L427.2 590.6 L427.2 591.1 L427.3 591.5 L427.3 591.9 L427.4 592.4 L427.4 592.8 L427.5 593.3 L427.5 593.7 L427.5 594.2 L427.6 594.6 L427.6 595.1 L427.7 595.5 L427.7 596.0 L427.7 596.4 L427.8 596.8 L427.8 597.3 L427.8 597.7 L427.9 598.2 L427.9 598.6 L427.9 599.1 L427.9 599.5 M427.8 622.4 L427.8 622.9 L427.7 623.3 L427.7 623.8 L427.7 624.2 L427.7 624.7 L427.6 625.1 L427.6 625.6 L427.6 626.0 L427.6 626.5 L427.5 626.9 L427.5 627.4 L427.5 627.8 L427.4 628.3 L427.4 628.7 L427.4 629.2 L427.4 629.6 L427.3 630.1 L427.3 630.5 L427.3 631.0 L427.2 631.4 L427.2 631.9 L427.2 632.3 L427.1 632.8 L427.1 633.2 L427.1 633.7 L427.0 634.1 L427.0 634.6 L427.0 635.0 L426.9 635.5 L426.9 635.9 L426.9 636.4 L426.8 636.8 L426.8 637.3 L426.8 637.7 L426.7 638.2 L426.7 638.6 L426.7 639.1 L426.6 639.5 L426.6 640.0 L426.6 640.4 L426.5 640.9 L426.5 641.3 L426.5 641.8 L426.4 642.2 L426.4 642.7 L426.4 643.1 L426.3 643.6 L426.3 644.0 L426.3 644.5 L426.2 644.9 L426.2 645.4 L426.1 645.8 M424.3 667.4 L424.2 667.9 L424.2 668.3 L424.2 668.8 L424.1 669.2 L424.1 669.7 L424.0 670.1 L424.0 670.6 L424.0 671.0 L423.9 671.5 L423.9 671.9 L423.8 672.4 L423.8 672.8 L423.8 673.3 L423.7 673.7 L423.7 674.2 L423.6 674.6 L423.6 675.1 L423.6 675.5 L423.5 676.0 L423.5 676.4 L423.4 676.9 L423.4 677.3 L423.4 677.8 L423.3 678.2 L423.3 678.7 L423.2 679.1 L423.2 679.6 L423.2 680.0 L423.1 680.5 L423.1 680.9 L423.0 681.4 L423.0 681.8 L423.0 682.3 L422.9 682.7 L422.9 683.2 L422.8 683.6 L422.8 684.1 L422.8 684.5 L422.7 685.0 L422.7 685.4 L422.6 685.9 L422.6 686.3 L422.6 686.8 L422.5 687.2 L422.5 687.7 L422.4 688.1 L422.4 688.6 L422.4 689.0 L422.3 689.5 L422.3 689.9 L422.3 690.4 L422.2 690.8 M420.7 710.2 L420.7 710.6 L420.7 711.1 L420.6 711.5 L420.6 712.0 L420.6 712.4 L420.5 712.9 L420.5 713.3 L420.5 713.8 L420.5 714.2 L420.4 714.7 L420.4 715.1 L420.4 715.6 L420.3 716.0 L420.3 716.5 L420.3 716.9 L420.3 717.4 L420.2 717.8 L420.2 718.3 L420.2 718.7 L420.1 719.2 L420.1 719.6 L420.1 720.1 L420.1 720.5 L420.0 721.0 L420.0 721.4 L420.0 721.9 L420.0 722.3 L419.9 722.8 L419.9 723.2 L419.9 723.7 L419.9 724.1 L419.9 724.6 L419.8 725.0 L419.8 725.5 L419.8 725.9 L419.8 726.4 L419.7 726.8 L419.7 727.3 L419.7 727.7 L419.7 728.2 L419.7 728.6 L419.6 729.1 L419.6 729.5 L419.6 730.0 L419.6 730.4 L419.6 730.9 L419.5 731.3 L419.5 731.8 L419.5 732.2 L419.5 732.7 L419.5 733.1 L419.5 733.6 M419.1 754.2 L419.1 754.7 L419.1 755.1 L419.1 755.6 L419.1 756.0 L419.1 756.5 L419.1 756.9 L419.1 757.4 L419.1 757.8 L419.1 758.3 L419.1 758.7 L419.1 759.2 L419.1 759.6 L419.2 760.1 L419.2 760.5 L419.2 761.0 L419.2 761.4 L419.2 761.9 L419.2 762.3 L419.2 762.8 L419.2 763.2 L419.2 763.7 L419.2 764.1 L419.3 764.6 L419.3 765.0 L419.3 765.5 L419.3 765.9 L419.3 766.4 L419.3 766.8 L419.3 767.3 L419.4 767.7 L419.4 768.2 L419.4 768.6 L419.4 769.1 L419.4 769.5 L419.4 770.0 L419.5 770.4 L419.5 770.9 L419.5 771.3 L419.5 771.7 L419.5 772.2 L419.6 772.6 L419.6 773.1 L419.6 773.5 L419.6 774.0 L419.6 774.4 L419.7 774.9 L419.7 775.3 L419.7 775.8 L419.7 776.2 L419.8 776.7 L419.8 777.1 L419.8 777.6 M421.6 800.0 L421.6 800.5 L421.7 800.9 L421.7 801.4 L421.7 801.8 L421.8 802.3 L421.8 802.7 L421.9 803.2 L421.9 803.6 L422.0 804.1 L422.0 804.5 L422.1 805.0 L422.1 805.4 L422.2 805.9 L422.2 806.3 L422.3 806.8 L422.3 807.2 L422.4 807.7 L422.4 808.1 L422.5 808.6 L422.5 809.0 L422.6 809.4 L422.6 809.9 L422.7 810.3 L422.7 810.8 L422.8 811.2 L422.8 811.7 L422.9 812.1 L422.9 812.6 L423.0 813.0 L423.0 813.5 L423.1 813.9 L423.1 814.4 L423.2 814.8 L423.2 815.3 L423.3 815.7 L423.3 816.2 L423.4 816.6 L423.5 817.1 L423.5 817.5 L423.6 818.0 L423.6 818.4 L423.7 818.9 L423.7 819.3 L423.8 819.8 L423.9 820.2 L423.9 820.7 L424.0 821.1 L424.0 821.6 L424.1 822.0 L424.1 822.5 L424.2 822.9 L424.3 823.4 M427.2 844.0 L427.2 844.4 L427.3 844.9 L427.4 845.3 L427.5 845.8 L427.5 846.2 L427.6 846.7 L427.7 847.1 L427.7 847.6 L427.8 848.0 L427.9 848.5 L427.9 848.9 L428.0 849.3 L428.1 849.8 L428.1 850.2 L428.2 850.7 L428.3 851.1 L428.4 851.6 L428.4 852.0 L428.5 852.5 L428.6 852.9 L428.6 853.4 L428.7 853.8 L428.8 854.3 L428.9 854.7 L428.9 855.2 L429.0 855.6 L429.1 856.1 L429.1 856.5 L429.2 857.0 L429.3 857.4 L429.4 857.9 L429.4 858.3 L429.5 858.8 L429.6 859.2 L429.6 859.7 L429.7 860.1 L429.8 860.5 L429.9 861.0 L429.9 861.4 L430.0 861.9 L430.1 862.3 L430.1 862.8 L430.2 863.2 L430.3 863.7 L430.4 864.1 L430.4 864.6 L430.5 865.0 L430.6 865.5 L430.7 865.9 L430.7 866.4 L430.8 866.8 L430.9 867.3 M434.2 887.4 L434.3 887.9 L434.4 888.3 L434.5 888.8 L434.5 889.2 L434.6 889.6 L434.7 890.1 L434.8 890.5 L434.8 891.0 L434.9 891.4 L435.0 891.9 L435.1 892.3 L435.1 892.8 L435.2 893.2 L435.3 893.7 L435.4 894.1 L435.4 894.6 L435.5 895.0 L435.6 895.5 L435.7 895.9 L435.7 896.4 L435.8 896.8 L435.9 897.3 L436.0 897.7 L436.0 898.1 L436.1 898.6 L436.2 899.0 L436.3 899.5 L436.3 899.9 L436.4 900.4 L436.5 900.8 L436.6 901.3 L436.6 901.7 L436.7 902.2 L436.8 902.6 L436.8 903.1 L436.9 903.5 L437.0 904.0 L437.1 904.4 L437.1 904.9 L437.2 905.3 L437.3 905.8 L437.4 906.2 L437.4 906.6 L437.5 907.1 L437.6 907.5 L437.7 908.0 L437.7 908.4 L437.8 908.9 L437.9 909.3 L437.9 909.8 L438.0 910.2 L438.1 910.7 M441.5 931.2 L441.6 931.6 L441.6 932.1 L441.7 932.5 L441.8 933.0 L441.9 933.4 L441.9 933.9 L442.0 934.3 L442.1 934.8 L442.2 935.2 L442.2 935.7 L442.3 936.1 L442.4 936.5 L442.5 937.0 L442.6 937.4 L442.6 937.9 L442.7 938.3 L442.8 938.8 L442.9 939.2 L442.9 939.6 L443.0 940.1 L443.1 940.5 L443.2 941.0 L443.3 941.4 L443.3 941.9 L443.4 942.3 L443.5 942.8 L443.6 943.2 L443.7 943.6 L443.7 944.1 L443.8 944.5 L443.9 945.0 L444.0 945.4 L444.1 945.9 L444.1 946.3 L444.2 946.7 L444.3 947.2 L444.4 947.6 L444.5 948.1 L444.6 948.5 L444.6 949.0 L444.7 949.4 L444.8 949.8 L444.9 950.3 L445.0 950.7 L445.1 951.2 L445.1 951.6 L445.2 952.1 L445.3 952.5 L445.4 952.9 L445.5 953.4 L445.6 953.8 L445.6 954.3 M450.3 975.8 L450.4 976.2 L450.5 976.6 L450.6 977.1 L450.7 977.5 L450.8 977.9 L450.9 978.4 L451.0 978.8 L451.1 979.2 L451.2 979.7 L451.3 980.1 L451.4 980.5 L451.5 981.0 L451.6 981.4 L451.7 981.8 L451.8 982.3 L452.0 982.7 L452.1 983.1 L452.2 983.6 L452.3 984.0 L452.4 984.4 L452.5 984.9 L452.6 985.3 L452.7 985.7 L452.9 986.2 L453.0 986.6 L453.1 987.0 L453.2 987.5 L453.3 987.9 L453.4 988.3 L453.5 988.8 L453.7 989.2 L453.8 989.6 L453.9 990.1 L454.0 990.5 L454.1 990.9 L454.3 991.3 L454.4 991.8 L454.5 992.2 L454.6 992.6 L454.7 993.1 L454.9 993.5 L455.0 993.9 L455.1 994.4 L455.2 994.8 L455.4 995.2 L455.5 995.6 L455.6 996.1 L455.7 996.5 L455.9 996.9 L456.0 997.4 L456.1 997.8 L456.3 998.2 M462.8 1017.7 L463.0 1018.1 L463.2 1018.5 L463.3 1018.9 L463.5 1019.4 L463.6 1019.8 L463.8 1020.2 L464.0 1020.6 L464.1 1021.0 L464.3 1021.4 L464.5 1021.9 L464.6 1022.3 L464.8 1022.7 L465.0 1023.1 L465.1 1023.5 L465.3 1023.9 L465.5 1024.4 L465.6 1024.8 L465.8 1025.2 L466.0 1025.6 L466.2 1026.0 L466.3 1026.4 L466.5 1026.8 L466.7 1027.3 L466.9 1027.7 L467.0 1028.1 L467.2 1028.5 L467.4 1028.9 L467.6 1029.3 L467.8 1029.7 L467.9 1030.1 L468.1 1030.6 L468.3 1031.0 L468.5 1031.4 L468.7 1031.8 L468.9 1032.2 L469.0 1032.6 L469.2 1033.0 L469.4 1033.4 L469.6 1033.8 L469.8 1034.3 L470.0 1034.7 L470.2 1035.1 L470.4 1035.5 L470.6 1035.9 L470.7 1036.3 L470.9 1036.7 L471.1 1037.1 L471.3 1037.5 L471.5 1037.9 L471.7 1038.3 L471.9 1038.7 L472.1 1039.2 M482.8 1059.2 L483.0 1059.6 L483.2 1060.0 L483.4 1060.4 L483.7 1060.8 L483.9 1061.2 L484.1 1061.6 L484.4 1062.0 L484.6 1062.4 L484.8 1062.8 L485.0 1063.2 L485.3 1063.6 L485.5 1064.0 L485.7 1064.4 L486.0 1064.8 L486.2 1065.2 L486.4 1065.6 L486.7 1065.9 L486.9 1066.3 L487.2 1066.7 L487.4 1067.1 L487.6 1067.5 L487.9 1067.9 L488.1 1068.3 L488.3 1068.7 L488.6 1069.1 L488.8 1069.5 L489.1 1069.9 L489.3 1070.3 L489.5 1070.6 L489.8 1071.0 L490.0 1071.4 L490.3 1071.8 L490.5 1072.2 L490.7 1072.6 L491.0 1073.0 L491.2 1073.4 L491.5 1073.8 L491.7 1074.2 L492.0 1074.5 L492.2 1074.9 L492.4 1075.3 L492.7 1075.7 L492.9 1076.1 L493.2 1076.5 L493.4 1076.9 L493.7 1077.3 L493.9 1077.6 L494.2 1078.0 L494.4 1078.4 L494.7 1078.8 L494.9 1079.2 L495.1 1079.6 M505.8 1095.6 L506.0 1096.0 L506.3 1096.4 L506.6 1096.7 L506.8 1097.1 L507.1 1097.5 L507.3 1097.9 L507.6 1098.2 L507.9 1098.6 L508.1 1099.0 L508.4 1099.4 L508.6 1099.8 L508.9 1100.1 L509.1 1100.5 L509.4 1100.9 L509.7 1101.3 L509.9 1101.6 L510.2 1102.0 L510.4 1102.4 L510.7 1102.8 L511.0 1103.1 L511.2 1103.5 L511.5 1103.9 L511.7 1104.3 L512.0 1104.6 L512.3 1105.0 L512.5 1105.4 L512.8 1105.7 L513.0 1106.1 L513.3 1106.5 L513.6 1106.9 L513.8 1107.2 L514.1 1107.6 L514.3 1108.0 L514.6 1108.4 L514.9 1108.7 L515.1 1109.1 L515.4 1109.5 L515.6 1109.8 L515.9 1110.2 L516.2 1110.6 L516.4 1111.0 L516.7 1111.3 L517.0 1111.7 L517.2 1112.1 L517.5 1112.4 L517.7 1112.8 L518.0 1113.2 L518.3 1113.5 L518.5 1113.9 L518.8 1114.3 L519.0 1114.7 L519.3 1115.0 M531.9 1133.1 L532.1 1133.5 L532.4 1133.9 L532.6 1134.2 L532.9 1134.6 L533.1 1135.0 L533.4 1135.4 L533.6 1135.7 L533.9 1136.1 L534.1 1136.5 L534.4 1136.8 L534.6 1137.2 L534.9 1137.6 L535.1 1138.0 L535.4 1138.3 L535.6 1138.7 L535.9 1139.1 L536.1 1139.4 L536.3 1139.8 L536.6 1140.2 L536.8 1140.6 L537.1 1140.9 L537.3 1141.3 L537.6 1141.7 L537.8 1142.1 L538.1 1142.4 L538.3 1142.8 L538.5 1143.2 L538.8 1143.6 L539.0 1143.9 L539.3 1144.3 L539.5 1144.7 L539.7 1145.1 L540.0 1145.4 L540.2 1145.8 L540.5 1146.2 L540.7 1146.6 L540.9 1146.9 L541.2 1147.3 L541.4 1147.7 L541.7 1148.1 L541.9 1148.5 L542.1 1148.8 L542.4 1149.2 L542.6 1149.6 L542.8 1150.0 L543.1 1150.4 L543.3 1150.7 L543.5 1151.1 L543.8 1151.5 L544.0 1151.9 L544.2 1152.3 L544.5 1152.6 M554.4 1170.6 L554.6 1171.0 L554.8 1171.4 L555.0 1171.8 L555.2 1172.2 L555.4 1172.6 L555.6 1173.0 L555.8 1173.4 L556.0 1173.8 L556.2 1174.2 L556.4 1174.6 L556.6 1175.0 L556.8 1175.4 L557.0 1175.8 L557.2 1176.3 L557.4 1176.7 L557.6 1177.1 L557.8 1177.5 L558.0 1177.9 L558.1 1178.3 L558.3 1178.7 L558.5 1179.1 L558.7 1179.5 L558.9 1179.9 L559.1 1180.4 L559.3 1180.8 L559.4 1181.2 L559.6 1181.6 L559.8 1182.0 L560.0 1182.4 L560.2 1182.9 L560.3 1183.3 L560.5 1183.7 L560.7 1184.1 L560.9 1184.5 L561.0 1184.9 L561.2 1185.4 L561.4 1185.8 L561.5 1186.2 L561.7 1186.6 L561.8 1187.1 L562.0 1187.5 L562.2 1187.9 L562.3 1188.3 L562.5 1188.8 L562.6 1189.2 L562.8 1189.6 L562.9 1190.0 L563.0 1190.5 L563.2 1190.9 L563.3 1191.3 L563.4 1191.7 L563.6 1192.2 M564.5 1213.0 L564.4 1213.5 L564.3 1213.9 L564.2 1214.4 L564.1 1214.8 L564.0 1215.2 L563.9 1215.7 L563.8 1216.1 L563.6 1216.6 L563.5 1217.0 L563.4 1217.5 L563.2 1217.9 L563.1 1218.4 L563.0 1218.8 L562.8 1219.3 L562.7 1219.7 L562.5 1220.1 L562.3 1220.6 L562.2 1221.0 L562.0 1221.5 L561.9 1221.9 L561.7 1222.3 L561.5 1222.8 L561.3 1223.2 L561.2 1223.6 L561.0 1224.1 L560.8 1224.5 L560.6 1224.9 L560.4 1225.4 L560.2 1225.8 L560.0 1226.2 L559.8 1226.7 L559.6 1227.1 L559.4 1227.5 L559.2 1227.9 L559.0 1228.3 L558.8 1228.8 L558.6 1229.2 L558.4 1229.6 L558.2 1230.0 L557.9 1230.4 L557.7 1230.8 L557.5 1231.2 L557.3 1231.6 L557.0 1232.0 L556.8 1232.5 L556.6 1232.9 L556.3 1233.3 L556.1 1233.7 L555.9 1234.0 L555.6 1234.4 M542.8 1251.1 L542.5 1251.5 L542.1 1251.8 L541.8 1252.1 L541.5 1252.4 L541.2 1252.7 L540.9 1253.1 L540.6 1253.4 L540.3 1253.7 L540.0 1254.0 L539.6 1254.3 L539.3 1254.6 L539.0 1254.9 L538.7 1255.2 L538.4 1255.6 L538.1 1255.9 L537.7 1256.2 L537.4 1256.5 L537.1 1256.8 L536.8 1257.1 L536.4 1257.4 L536.1 1257.7 L535.8 1258.0 L535.5 1258.3 L535.1 1258.6 L534.8 1258.9 L534.5 1259.2 L534.1 1259.5 L533.8 1259.8 L533.5 1260.1 L533.1 1260.4 L532.8 1260.6 L532.5 1260.9 L532.1 1261.2 L531.8 1261.5 L531.4 1261.8 L531.1 1262.1 L530.8 1262.4 L530.4 1262.7 L530.1 1263.0 L529.7 1263.2 L529.4 1263.5 L529.1 1263.8 L528.7 1264.1 L528.4 1264.4 L528.0 1264.7 L527.7 1265.0 L527.3 1265.2 L527.0 1265.5 L526.6 1265.8 L526.3 1266.1 L525.9 1266.4 L525.6 1266.6 L525.2 1266.9 M508.7 1279.5 L508.3 1279.8 L508.0 1280.1 L507.6 1280.3 L507.2 1280.6 L506.9 1280.9 L506.5 1281.2 L506.2 1281.4 L505.8 1281.7 L505.4 1282.0 L505.1 1282.3 L504.7 1282.5 L504.3 1282.8 L504.0 1283.1 L503.6 1283.4 L503.2 1283.6 L502.9 1283.9 L502.5 1284.2 L502.2 1284.5 L501.8 1284.8 L501.4 1285.0 L501.1 1285.3 L500.7 1285.6 L500.3 1285.9 L500.0 1286.2 L499.6 1286.4 L499.3 1286.7 L498.9 1287.0 L498.5 1287.3 L498.2 1287.6 L497.8 1287.9 L497.5 1288.1 L497.1 1288.4 L496.7 1288.7 L496.4 1289.0 L496.0 1289.3 L495.7 1289.6 L495.3 1289.9 L494.9 1290.2 L494.6 1290.5 L494.2 1290.7 L493.9 1291.0 L493.5 1291.3 L493.2 1291.6 L492.8 1291.9 L492.5 1292.2 L492.1 1292.5 L491.7 1292.8 L491.4 1293.1 L491.0 1293.4 L490.7 1293.7 L490.3 1294.0 L490.0 1294.3 M474.9 1309.0 L474.6 1309.4 L474.3 1309.7 L474.0 1310.1 L473.7 1310.4 L473.4 1310.8 L473.1 1311.2 L472.8 1311.5 L472.4 1311.9 L472.1 1312.3 L471.8 1312.6 L471.5 1313.0 L471.3 1313.4 L471.0 1313.7 L470.7 1314.1 L470.4 1314.5 L470.1 1314.9 L469.8 1315.3 L469.5 1315.6 L469.3 1316.0 L469.0 1316.4 L468.7 1316.8 L468.5 1317.1 L468.2 1317.5 L467.9 1317.9 L467.7 1318.3 L467.4 1318.7 L467.2 1319.1 L466.9 1319.5 L466.7 1319.8 L466.5 1320.2 L466.2 1320.6 L466.0 1321.0 L465.8 1321.4 L465.6 1321.8 L465.4 1322.2 L465.2 1322.5 L465.0 1322.9 L464.8 1323.3 L464.6 1323.7 L464.4 1324.1 L464.3 1324.5 L464.1 1324.9 L463.9 1325.3 L463.8 1325.7 L463.6 1326.0 L463.5 1326.4 L463.4 1326.8 L463.2 1327.2 L463.1 1327.6 L463.0 1328.0 L462.9 1328.4 L462.8 1328.7 L462.7 1329.1 M471.1 1348.4 L471.5 1348.6 L471.8 1348.9 L472.2 1349.2 L472.5 1349.4 L472.9 1349.7 L473.2 1349.9 L473.6 1350.2 L474.0 1350.4 L474.3 1350.7 L474.7 1350.9 L475.1 1351.1 L475.5 1351.4 L475.8 1351.6 L476.2 1351.8 L476.6 1352.1 L477.0 1352.3 L477.4 1352.5 L477.8 1352.7 L478.2 1352.9 L478.6 1353.1 L479.0 1353.4 L479.4 1353.6 L479.8 1353.8 L480.2 1354.0 L480.7 1354.2 L481.1 1354.4 L481.5 1354.6 L481.9 1354.8 L482.3 1355.0 L482.8 1355.2 L483.2 1355.4 L483.6 1355.6 L484.0 1355.8 L484.5 1355.9 L484.9 1356.1 L485.3 1356.3 L485.7 1356.5 L486.2 1356.7 L486.6 1356.9 L487.0 1357.1 L487.5 1357.3 L487.9 1357.4 L488.3 1357.6 L488.8 1357.8 L489.2 1358.0 L489.7 1358.2 L490.1 1358.3 L490.5 1358.5 L491.0 1358.7 L491.4 1358.9 L491.8 1359.1 M512.6 1367.6 L513.1 1367.8 L513.5 1367.9 L513.9 1368.1 L514.3 1368.3 L514.8 1368.5 L515.2 1368.6 L515.6 1368.8 L516.1 1369.0 L516.5 1369.2 L516.9 1369.3 L517.3 1369.5 L517.8 1369.7 L518.2 1369.9 L518.6 1370.0 L519.1 1370.2 L519.5 1370.4 L519.9 1370.5 L520.4 1370.7 L520.8 1370.9 L521.2 1371.1 L521.6 1371.2 L522.1 1371.4 L522.5 1371.6 L522.9 1371.7 L523.3 1371.9 L523.8 1372.1 L524.2 1372.3 L524.6 1372.4 L525.1 1372.6 L525.5 1372.8 L525.9 1372.9 L526.3 1373.1 L526.8 1373.3 L527.2 1373.4 L527.6 1373.6 L528.1 1373.8 L528.5 1374.0 L528.9 1374.1 L529.3 1374.3 L529.8 1374.5 L530.2 1374.6 L530.6 1374.8 L531.0 1375.0 L531.5 1375.1 L531.9 1375.3 L532.3 1375.5 L532.7 1375.6 L533.2 1375.8 L533.6 1376.0 L534.0 1376.1 L534.5 1376.3 M553.6 1383.6 L554.0 1383.8 L554.5 1383.9 L554.9 1384.1 L555.3 1384.3 L555.7 1384.4 L556.2 1384.6 L556.6 1384.7 L557.0 1384.9 L557.4 1385.0 L557.8 1385.2 L558.3 1385.4 L558.7 1385.5 L559.1 1385.7 L559.5 1385.8 L560.0 1386.0 L560.4 1386.1 L560.8 1386.3 L561.2 1386.4 L561.7 1386.6 L562.1 1386.7 L562.5 1386.9 L562.9 1387.1 L563.4 1387.2 L563.8 1387.4 L564.2 1387.5 L564.6 1387.7 L565.1 1387.8 L565.5 1388.0 L565.9 1388.1 L566.3 1388.3 L566.8 1388.4 L567.2 1388.6 L567.6 1388.7 L568.0 1388.9 L568.5 1389.0 L568.9 1389.2 L569.3 1389.3 L569.7 1389.5 L570.2 1389.6 L570.6 1389.8 L571.0 1389.9 L571.4 1390.1 L571.9 1390.2 L572.3 1390.4 L572.7 1390.5 L573.1 1390.7 L573.6 1390.8 L574.0 1391.0 L574.4 1391.1 L574.8 1391.3 L575.3 1391.4 L575.7 1391.5 M594.9 1397.8 L595.3 1398.0 L595.7 1398.1 L596.2 1398.2 L596.6 1398.4 L597.0 1398.5 L597.4 1398.6 L597.9 1398.8 L598.3 1398.9 L598.7 1399.0 L599.2 1399.2 L599.6 1399.3 L600.0 1399.4 L600.4 1399.5 L600.9 1399.7 L601.3 1399.8 L601.7 1399.9 L602.2 1400.1 L602.6 1400.2 L603.0 1400.3 L603.4 1400.4 L603.9 1400.6 L604.3 1400.7 L604.7 1400.8 L605.2 1401.0 L605.6 1401.1 L606.0 1401.2 L606.4 1401.3 L606.9 1401.5 L607.3 1401.6 L607.7 1401.7 L608.2 1401.8 L608.6 1402.0 L609.0 1402.1 L609.5 1402.2 L609.9 1402.3 L610.3 1402.4 L610.7 1402.6 L611.2 1402.7 L611.6 1402.8 L612.0 1402.9 L612.5 1403.1 L612.9 1403.2 L613.3 1403.3 L613.8 1403.4 L614.2 1403.5 L614.6 1403.7 L615.1 1403.8 L615.5 1403.9 L615.9 1404.0 L616.4 1404.1 L616.8 1404.2 L617.2 1404.4 M638.1 1409.7 L638.5 1409.8 L638.9 1409.9 L639.4 1410.0 L639.8 1410.1 L640.2 1410.2 L640.7 1410.3 L641.1 1410.4 L641.5 1410.5 L642.0 1410.6 L642.4 1410.7 L642.9 1410.8 L643.3 1410.9 L643.7 1411.0 L644.2 1411.1 L644.6 1411.2 L645.0 1411.3 L645.5 1411.4 L645.9 1411.5 L646.4 1411.6 L646.8 1411.7 L647.2 1411.8 L647.7 1411.9 L648.1 1412.0 L648.5 1412.1 L649.0 1412.2 L649.4 1412.3 L649.9 1412.4 L650.3 1412.5 L650.7 1412.6 L651.2 1412.7 L651.6 1412.8 L652.0 1412.9 L652.5 1412.9 L652.9 1413.0 L653.4 1413.1 L653.8 1413.2 L654.2 1413.3 L654.7 1413.4 L655.1 1413.5 L655.6 1413.6 L656.0 1413.7 L656.4 1413.8 L656.9 1413.9 L657.3 1414.0 L657.7 1414.1 L658.2 1414.2 L658.6 1414.3 L659.1 1414.3 L659.5 1414.4 L659.9 1414.5 L660.4 1414.6 L660.8 1414.7 M682.0 1418.8 L682.5 1418.9 L682.9 1418.9 L683.3 1419.0 L683.8 1419.1 L684.2 1419.2 L684.7 1419.2 L685.1 1419.3 L685.6 1419.4 L686.0 1419.5 L686.4 1419.6 L686.9 1419.6 L687.3 1419.7 L687.8 1419.8 L688.2 1419.9 L688.7 1419.9 L689.1 1420.0 L689.5 1420.1 L690.0 1420.2 L690.4 1420.2 L690.9 1420.3 L691.3 1420.4 L691.8 1420.5 L692.2 1420.5 L692.7 1420.6 L693.1 1420.7 L693.5 1420.8 L694.0 1420.8 L694.4 1420.9 L694.9 1421.0 L695.3 1421.1 L695.8 1421.1 L696.2 1421.2 L696.7 1421.3 L697.1 1421.3 L697.5 1421.4 L698.0 1421.5 L698.4 1421.6 L698.9 1421.6 L699.3 1421.7 L699.8 1421.8 L700.2 1421.8 L700.7 1421.9 L701.1 1422.0 L701.5 1422.1 L702.0 1422.1 L702.4 1422.2 L702.9 1422.3 L703.3 1422.3 L703.8 1422.4 L704.2 1422.5 L704.7 1422.5 L705.1 1422.6 M725.2 1425.5 L725.7 1425.6 L726.1 1425.6 L726.5 1425.7 L727.0 1425.8 L727.4 1425.8 L727.9 1425.9 L728.3 1425.9 L728.8 1426.0 L729.2 1426.1 L729.7 1426.1 L730.1 1426.2 L730.6 1426.2 L731.0 1426.3 L731.5 1426.3 L731.9 1426.4 L732.4 1426.5 L732.8 1426.5 L733.3 1426.6 L733.7 1426.6 L734.2 1426.7 L734.6 1426.8 L735.1 1426.8 L735.5 1426.9 L736.0 1426.9 L736.4 1427.0 L736.9 1427.0 L737.3 1427.1 L737.7 1427.1 L738.2 1427.2 L738.6 1427.3 L739.1 1427.3 L739.5 1427.4 L740.0 1427.4 L740.4 1427.5 L740.9 1427.5 L741.3 1427.6 L741.8 1427.6 L742.2 1427.7 L742.7 1427.8 L743.1 1427.8 L743.6 1427.9 L744.0 1427.9 L744.5 1428.0 L744.9 1428.0 L745.4 1428.1 L745.8 1428.1 L746.3 1428.2 L746.7 1428.2 L747.2 1428.3 L747.6 1428.4 L748.1 1428.4 L748.5 1428.5 M769.7 1430.8 L770.1 1430.9 L770.6 1430.9 L771.0 1430.9 L771.5 1431.0 L771.9 1431.0 L772.4 1431.1 L772.8 1431.1 L773.3 1431.2 L773.7 1431.2 L774.2 1431.3 L774.6 1431.3 L775.1 1431.4 L775.5 1431.4 L776.0 1431.5 L776.4 1431.5 L776.9 1431.5 L777.3 1431.6 L777.8 1431.6 L778.2 1431.7 L778.7 1431.7 L779.1 1431.8 L779.6 1431.8 L780.0 1431.9 L780.5 1431.9 L780.9 1432.0 L781.4 1432.0 L781.8 1432.0 L782.3 1432.1 L782.7 1432.1 L783.2 1432.2 L783.6 1432.2 L784.1 1432.3 L784.5 1432.3 L785.0 1432.4 L785.4 1432.4 L785.9 1432.4 L786.3 1432.5 L786.8 1432.5 L787.2 1432.6 L787.7 1432.6 L788.1 1432.7 L788.6 1432.7 L789.0 1432.7 L789.5 1432.8 L789.9 1432.8 L790.4 1432.9 L790.8 1432.9 L791.3 1433.0 L791.8 1433.0 L792.2 1433.0 L792.7 1433.1 L793.1 1433.1 M814.8 1435.1 L815.2 1435.1 L815.7 1435.2 L816.1 1435.2 L816.6 1435.2 L817.0 1435.3 L817.5 1435.3 L817.9 1435.3 L818.4 1435.4 L818.8 1435.4 L819.3 1435.5 L819.7 1435.5 L820.2 1435.5 L820.6 1435.6 L821.1 1435.6 L821.5 1435.7 L822.0 1435.7 L822.4 1435.7 L822.9 1435.8 L823.3 1435.8 L823.8 1435.8 L824.2 1435.9 L824.7 1435.9 L825.1 1436.0 L825.6 1436.0 L826.0 1436.0 L826.5 1436.1 L826.9 1436.1 L827.4 1436.2 L827.9 1436.2 L828.3 1436.2 L828.8 1436.3 L829.2 1436.3 L829.7 1436.3 L830.1 1436.4 L830.6 1436.4 L831.0 1436.5 L831.5 1436.5 L831.9 1436.5 L832.4 1436.6 L832.8 1436.6 L833.3 1436.6 L833.7 1436.7 L834.2 1436.7 L834.6 1436.8 L835.1 1436.8 L835.5 1436.8 L836.0 1436.9 L836.4 1436.9 L836.9 1436.9 L837.3 1437.0 L837.8 1437.0 L838.2 1437.0 M858.1 1438.6 L858.5 1438.7 L859.0 1438.7 L859.4 1438.8 L859.9 1438.8 L860.3 1438.8 L860.8 1438.9 L861.2 1438.9 L861.7 1438.9 L862.1 1439.0 L862.6 1439.0 L863.0 1439.0 L863.5 1439.1 L863.9 1439.1 L864.4 1439.1 L864.8 1439.2 L865.3 1439.2 L865.7 1439.2 L866.2 1439.3 L866.6 1439.3 L867.1 1439.4 L867.5 1439.4 L868.0 1439.4 L868.4 1439.5 L868.9 1439.5 L869.3 1439.5 L869.8 1439.6 L870.2 1439.6 L870.7 1439.6 L871.1 1439.7 L871.6 1439.7 L872.0 1439.7 L872.5 1439.8 L872.9 1439.8 L873.4 1439.8 L873.8 1439.9 L874.3 1439.9 L874.7 1439.9 L875.2 1440.0 L875.7 1440.0 L876.1 1440.1 L876.6 1440.1 L877.0 1440.1 L877.5 1440.2 L877.9 1440.2 L878.4 1440.2 L878.8 1440.3 L879.3 1440.3 L879.7 1440.3 L880.2 1440.4 L880.6 1440.4 L881.1 1440.4 L881.5 1440.5 M902.7 1442.1 L903.1 1442.1 L903.6 1442.1 L904.0 1442.2 L904.5 1442.2 L904.9 1442.2 L905.4 1442.3 L905.8 1442.3 L906.3 1442.3 L906.7 1442.4 L907.2 1442.4 L907.6 1442.4 L908.1 1442.5 L908.5 1442.5 L909.0 1442.5 L909.4 1442.6 L909.9 1442.6 L910.3 1442.6 L910.8 1442.7 L911.2 1442.7 L911.7 1442.7 L912.1 1442.8 L912.6 1442.8 L913.0 1442.8 L913.5 1442.9 L913.9 1442.9 L914.4 1442.9 L914.8 1443.0 L915.3 1443.0 L915.7 1443.0 L916.2 1443.1 L916.6 1443.1 L917.1 1443.1 L917.5 1443.2 L918.0 1443.2 L918.4 1443.2 L918.9 1443.3 L919.3 1443.3 L919.8 1443.3 L920.2 1443.4 L920.7 1443.4 L921.1 1443.4 L921.6 1443.5 L922.0 1443.5 L922.5 1443.5 L922.9 1443.6 L923.4 1443.6 L923.8 1443.6 L924.3 1443.7 L924.7 1443.7 L925.2 1443.7 L925.6 1443.8 L926.1 1443.8 M947.7 1445.4 L948.1 1445.4 L948.6 1445.5 L949.0 1445.5 L949.5 1445.5 L949.9 1445.6 L950.4 1445.6 L950.8 1445.6 L951.3 1445.7 L951.7 1445.7 L952.2 1445.7 L952.6 1445.8 L953.1 1445.8 L953.5 1445.9 L954.0 1445.9 L954.4 1445.9 L954.9 1446.0 L955.3 1446.0 L955.8 1446.0 L956.2 1446.1 L956.7 1446.1 L957.1 1446.1 L957.6 1446.2 L958.0 1446.2 L958.5 1446.2 L958.9 1446.3 L959.4 1446.3 L959.8 1446.3 L960.3 1446.4 L960.7 1446.4 L961.2 1446.4 L961.6 1446.5 L962.1 1446.5 L962.5 1446.5 L963.0 1446.6 L963.4 1446.6 L963.9 1446.6 L964.3 1446.7 L964.8 1446.7 L965.2 1446.7 L965.7 1446.8 L966.1 1446.8 L966.6 1446.8 L967.0 1446.9 L967.5 1446.9 L967.9 1446.9 L968.4 1447.0 L968.8 1447.0 L969.3 1447.0 L969.7 1447.1 L970.2 1447.1 L970.6 1447.1 L971.1 1447.2 M992.2 1448.8 L992.7 1448.8 L993.1 1448.8 L993.6 1448.9 L994.0 1448.9 L994.5 1449.0 L994.9 1449.0 L995.4 1449.0 L995.8 1449.1 L996.3 1449.1 L996.7 1449.1 L997.2 1449.2 L997.6 1449.2 L998.1 1449.2 L998.5 1449.3 L999.0 1449.3 L999.4 1449.3 L999.9 1449.4 L1000.3 1449.4 L1000.8 1449.4 L1001.2 1449.5 L1001.7 1449.5 L1002.1 1449.5 L1002.6 1449.6 L1003.0 1449.6 L1003.5 1449.7 L1003.9 1449.7 L1004.4 1449.7 L1004.8 1449.8 L1005.3 1449.8 L1005.7 1449.8 L1006.1 1449.9 L1006.6 1449.9 L1007.0 1449.9 L1007.5 1450.0 L1007.9 1450.0 L1008.4 1450.0 L1008.8 1450.1 L1009.3 1450.1 L1009.7 1450.2 L1010.2 1450.2 L1010.6 1450.2 L1011.1 1450.3 L1011.5 1450.3 L1012.0 1450.3 L1012.4 1450.4 L1012.9 1450.4 L1013.3 1450.4 L1013.8 1450.5 L1014.2 1450.5 L1014.7 1450.5 L1015.1 1450.6 L1015.6 1450.6 M1036.3 1452.3 L1036.7 1452.4 L1037.2 1452.4 L1037.6 1452.4 L1038.0 1452.5 L1038.5 1452.5 L1038.9 1452.5 L1039.4 1452.6 L1039.8 1452.6 L1040.3 1452.7 L1040.7 1452.7 L1041.2 1452.7 L1041.6 1452.8 L1042.1 1452.8 L1042.5 1452.8 L1043.0 1452.9 L1043.4 1452.9 L1043.9 1453.0 L1044.3 1453.0 L1044.8 1453.0 L1045.2 1453.1 L1045.7 1453.1 L1046.1 1453.2 L1046.6 1453.2 L1047.0 1453.2 L1047.5 1453.3 L1047.9 1453.3 L1048.4 1453.3 L1048.8 1453.4 L1049.3 1453.4 L1049.7 1453.5 L1050.2 1453.5 L1050.6 1453.5 L1051.1 1453.6 L1051.5 1453.6 L1052.0 1453.7 L1052.4 1453.7 L1052.9 1453.7 L1053.3 1453.8 L1053.8 1453.8 L1054.2 1453.9 L1054.7 1453.9 L1055.1 1453.9 L1055.6 1454.0 L1056.0 1454.0 L1056.5 1454.0 L1056.9 1454.1 L1057.4 1454.1 L1057.8 1454.2 L1058.3 1454.2 L1058.7 1454.2 L1059.2 1454.3 L1059.6 1454.3 M1079.4 1456.1 L1079.8 1456.2 L1080.3 1456.2 L1080.7 1456.2 L1081.2 1456.3 L1081.6 1456.3 L1082.1 1456.4 L1082.5 1456.4 L1083.0 1456.5 L1083.4 1456.5 L1083.9 1456.5 L1084.3 1456.6 L1084.7 1456.6 L1085.2 1456.7 L1085.6 1456.7 L1086.1 1456.8 L1086.5 1456.8 L1087.0 1456.8 L1087.4 1456.9 L1087.9 1456.9 L1088.3 1457.0 L1088.8 1457.0 L1089.2 1457.1 L1089.7 1457.1 L1090.1 1457.1 L1090.6 1457.2 L1091.0 1457.2 L1091.5 1457.3 L1091.9 1457.3 L1092.4 1457.4 L1092.8 1457.4 L1093.3 1457.4 L1093.7 1457.5 L1094.2 1457.5 L1094.6 1457.6 L1095.1 1457.6 L1095.5 1457.7 L1096.0 1457.7 L1096.4 1457.8 L1096.9 1457.8 L1097.3 1457.8 L1097.8 1457.9 L1098.2 1457.9 L1098.7 1458.0 L1099.1 1458.0 L1099.6 1458.1 L1100.0 1458.1 L1100.5 1458.2 L1100.9 1458.2 L1101.4 1458.2 L1101.8 1458.3 L1102.3 1458.3 L1102.7 1458.4 M1125.1 1460.7 L1125.6 1460.8 L1126.0 1460.8 L1126.5 1460.8 L1126.9 1460.9 L1127.4 1460.9 L1127.8 1461.0 L1128.3 1461.0 L1128.7 1461.1 L1129.2 1461.1 L1129.6 1461.2 L1130.1 1461.2 L1130.5 1461.3 L1131.0 1461.3 L1131.4 1461.4 L1131.9 1461.4 L1132.3 1461.5 L1132.8 1461.5 L1133.2 1461.6 L1133.7 1461.6 L1134.1 1461.7 L1134.6 1461.7 L1135.0 1461.8 L1135.5 1461.8 L1135.9 1461.9 L1136.4 1461.9 L1136.8 1462.0 L1137.3 1462.0 L1137.7 1462.1 L1138.1 1462.1 L1138.6 1462.2 L1139.0 1462.2 L1139.5 1462.3 L1139.9 1462.3 L1140.4 1462.4 L1140.8 1462.4 L1141.3 1462.5 L1141.7 1462.5 L1142.2 1462.6 L1142.6 1462.6 L1143.1 1462.7 L1143.5 1462.7 L1144.0 1462.8 L1144.4 1462.8 L1144.9 1462.9 L1145.3 1462.9 L1145.8 1463.0 L1146.2 1463.0 L1146.7 1463.1 L1147.1 1463.1 L1147.6 1463.2 L1148.0 1463.3 L1148.5 1463.3 M1170.0 1465.9 L1170.4 1465.9 L1170.9 1466.0 L1171.3 1466.1 L1171.8 1466.1 L1172.2 1466.2 L1172.7 1466.2 L1173.1 1466.3 L1173.6 1466.3 L1174.0 1466.4 L1174.5 1466.5 L1174.9 1466.5 L1175.4 1466.6 L1175.8 1466.6 L1176.3 1466.7 L1176.7 1466.7 L1177.2 1466.8 L1177.6 1466.9 L1178.1 1466.9 L1178.5 1467.0 L1179.0 1467.0 L1179.4 1467.1 L1179.9 1467.1 L1180.3 1467.2 L1180.8 1467.3 L1181.2 1467.3 L1181.7 1467.4 L1182.1 1467.4 L1182.6 1467.5 L1183.0 1467.5 L1183.5 1467.6 L1183.9 1467.7 L1184.3 1467.7 L1184.8 1467.8 L1185.2 1467.8 L1185.7 1467.9 L1186.1 1468.0 L1186.6 1468.0 L1187.0 1468.1 L1187.5 1468.1 L1187.9 1468.2 L1188.4 1468.3 L1188.8 1468.3 L1189.3 1468.4 L1189.7 1468.4 L1190.2 1468.5 L1190.6 1468.6 L1191.1 1468.6 L1191.5 1468.7 L1192.0 1468.7 L1192.4 1468.8 L1192.9 1468.9 L1193.3 1468.9 M1212.6 1471.6 L1213.0 1471.7 L1213.5 1471.7 L1213.9 1471.8 L1214.4 1471.9 L1214.8 1471.9 L1215.3 1472.0 L1215.7 1472.1 L1216.2 1472.1 L1216.6 1472.2 L1217.1 1472.3 L1217.5 1472.3 L1218.0 1472.4 L1218.4 1472.5 L1218.9 1472.5 L1219.3 1472.6 L1219.8 1472.7 L1220.2 1472.7 L1220.7 1472.8 L1221.1 1472.9 L1221.6 1472.9 L1222.0 1473.0 L1222.5 1473.1 L1222.9 1473.1 L1223.4 1473.2 L1223.8 1473.3 L1224.3 1473.3 L1224.7 1473.4 L1225.2 1473.5 L1225.6 1473.5 L1226.0 1473.6 L1226.5 1473.7 L1226.9 1473.7 L1227.4 1473.8 L1227.8 1473.9 L1228.3 1473.9 L1228.7 1474.0 L1229.2 1474.1 L1229.6 1474.1 L1230.1 1474.2 L1230.5 1474.3 L1231.0 1474.3 L1231.4 1474.4 L1231.9 1474.5 L1232.3 1474.6 L1232.8 1474.6 L1233.2 1474.7 L1233.7 1474.8 L1234.1 1474.8" fill="none" stroke="#387218" stroke-width="5.5" stroke-linejoin="round"/>
<rect x="890" y="732" width="293" height="180" fill="#000" opacity="0.47" filter="url(#sh)"/>
<rect x="891" y="721.2" width="295" height="178.4" fill="#fff" stroke="#111" stroke-width="4.2"/>
<line x1="916" y1="765.8" x2="1021" y2="765.8" stroke="#c00000" stroke-width="6" stroke-linecap="round"/>
<line x1="914" y1="854.5" x2="1024" y2="854.5" stroke="#2f6b0f" stroke-width="5.5" stroke-dasharray="25 20"/>
<text class="thin" x="1033" y="784" font-size="61">Tand.</text>
<text class="thin" transform="translate(1030.6 872.6) scale(0.97 1)" font-size="61">Sing.</text>
</svg>
</body></html>
